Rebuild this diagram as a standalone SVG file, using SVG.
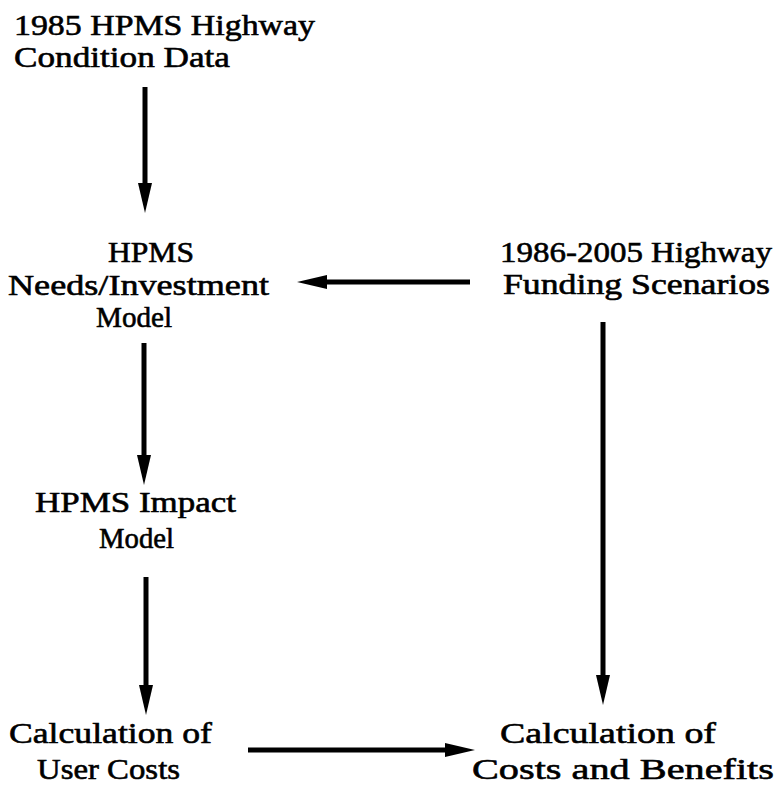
<svg xmlns="http://www.w3.org/2000/svg" width="779" height="789" viewBox="0 0 779 789">
<defs>
<style>
text{font-family:"Liberation Serif","Times New Roman",serif;font-size:30px;fill:#000;stroke:#000;stroke-width:0.6}
.c line{stroke:#000;stroke-width:5}
</style>
<marker id="ah" markerUnits="userSpaceOnUse" markerWidth="30" markerHeight="14" refX="4" refY="7" orient="auto">
<path d="M0,0 L30,7 L0,14 z" fill="#000"/>
</marker>
</defs>
<rect width="779" height="789" fill="#fff"/>
<g id="n1">
<text x="14" y="35" textLength="301" lengthAdjust="spacingAndGlyphs">1985 HPMS Highway</text>
<text x="14" y="67" textLength="216" lengthAdjust="spacingAndGlyphs">Condition Data</text>
</g>
<g id="n2">
<text x="108" y="262" textLength="86" lengthAdjust="spacingAndGlyphs">HPMS</text>
<text x="8" y="295" textLength="261" lengthAdjust="spacingAndGlyphs">Needs/Investment</text>
<text x="96" y="327" textLength="76" lengthAdjust="spacingAndGlyphs">Model</text>
</g>
<g id="n3">
<text x="500" y="262" textLength="272" lengthAdjust="spacingAndGlyphs">1986-2005 Highway</text>
<text x="503" y="294" textLength="267" lengthAdjust="spacingAndGlyphs">Funding Scenarios</text>
</g>
<g id="n4">
<text x="35" y="512" textLength="201" lengthAdjust="spacingAndGlyphs">HPMS Impact</text>
<text x="99" y="548" textLength="75" lengthAdjust="spacingAndGlyphs">Model</text>
</g>
<g id="n5">
<text x="9" y="743" textLength="203" lengthAdjust="spacingAndGlyphs">Calculation of</text>
<text x="37" y="779" textLength="143" lengthAdjust="spacingAndGlyphs">User Costs</text>
</g>
<g id="n6">
<text x="500" y="743" textLength="216" lengthAdjust="spacingAndGlyphs">Calculation of</text>
<text x="472" y="779" textLength="302" lengthAdjust="spacingAndGlyphs">Costs and Benefits</text>
</g>
<g id="connectors" class="c">
<line x1="145" y1="87" x2="145" y2="187" marker-end="url(#ah)"/>
<line x1="144" y1="343" x2="144" y2="459" marker-end="url(#ah)"/>
<line x1="146" y1="577" x2="146" y2="689" marker-end="url(#ah)"/>
<line x1="603" y1="322" x2="603" y2="679" marker-end="url(#ah)"/>
<line x1="470" y1="282" x2="323" y2="282" marker-end="url(#ah)"/>
<line x1="248" y1="750" x2="449" y2="750" marker-end="url(#ah)"/>
</g>
</svg>
